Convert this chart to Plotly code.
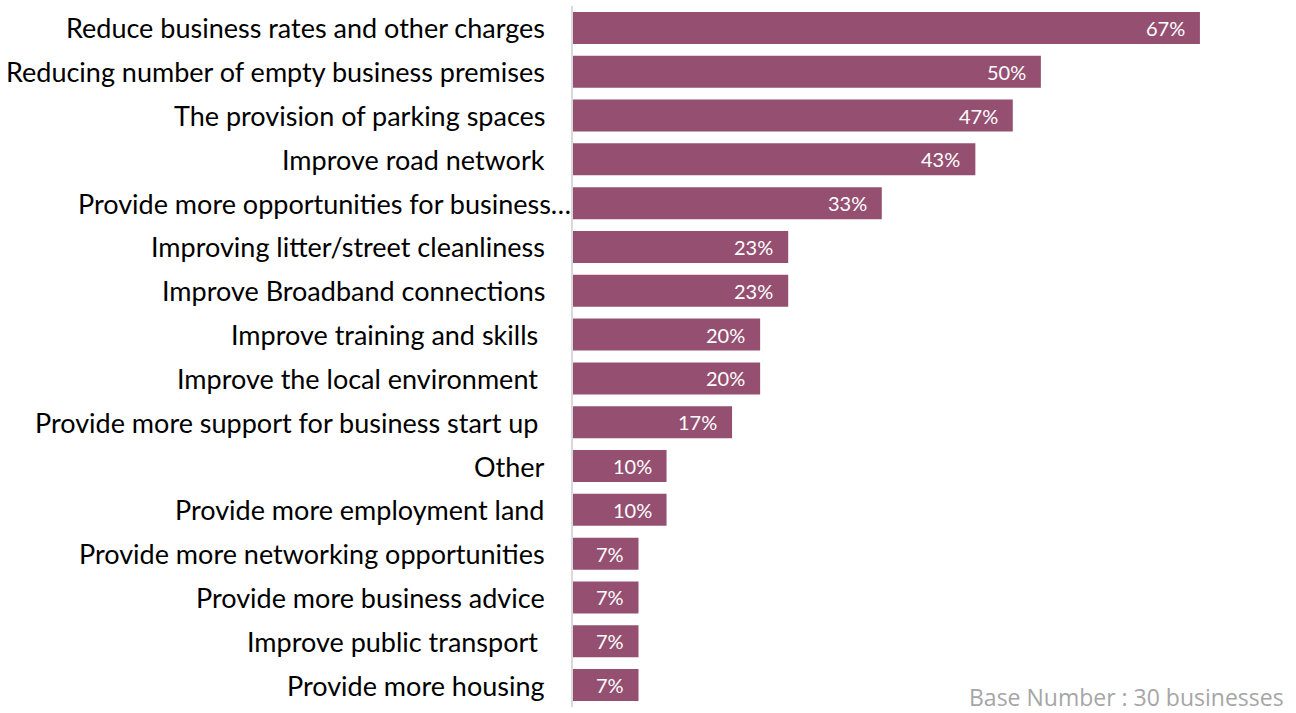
import plotly.graph_objects as go

# Survey results: what would most help local businesses (share of respondents)
categories = [
    "Reduce business rates and other charges",
    "Reducing number of empty business premises",
    "The provision of parking spaces",
    "Improve road network",
    "Provide more opportunities for business…",
    "Improving litter/street cleanliness",
    "Improve Broadband connections",
    "Improve training and skills\u00a0",
    "Improve the local environment\u00a0",
    "Provide more support for business start up\u00a0",
    "Other",
    "Provide more employment land",
    "Provide more networking opportunities",
    "Provide more business advice",
    "Improve public transport\u00a0",
    "Provide more housing",
]
values = [67, 50, 47, 43, 33, 23, 23, 20, 20, 17, 10, 10, 7, 7, 7, 7]
value_labels = [f"{v}%" for v in values]
footnote = "Base Number : 30 businesses"

BAR_COLOR = "#955071"
LABEL_FONT = "Lato"

fig = go.Figure(
    go.Bar(
        x=values,
        y=categories,
        orientation="h",
        marker=dict(color=BAR_COLOR, line=dict(width=0)),
        hoverinfo="skip",
    )
)

# Value labels, inset from the end of each bar
for cat, v, lab in zip(categories, values, value_labels):
    fig.add_annotation(
        x=v, y=cat, xref="x", yref="y",
        text=lab, showarrow=False,
        xanchor="right", yanchor="middle",
        xshift=-13,
        font=dict(family=LABEL_FONT, size=20, color="white"),
    )

# Category labels drawn as annotations so the truncated label can overhang
label_shift = {"Provide more opportunities for business…": 0}
for cat in categories:
    fig.add_annotation(
        x=0, y=cat, xref="x", yref="y",
        text=cat, showarrow=False,
        xanchor="right", yanchor="middle",
        xshift=label_shift.get(cat, -26),
        font=dict(family=LABEL_FONT, size=27, color="black"),
    )

fig.add_annotation(
    x=1.089, y=0.0143, xref="paper", yref="paper",
    text=footnote, showarrow=False,
    xanchor="right", yanchor="middle",
    font=dict(family="Open Sans", size=23, color="#A6A6A6"),
)

fig.update_layout(
    width=1296, height=713,
    margin=dict(l=573, r=68, t=6, b=6),
    paper_bgcolor="white", plot_bgcolor="white",
    bargap=0.27,
    showlegend=False,
    xaxis=dict(range=[0, 70], visible=False, fixedrange=True),
    yaxis=dict(
        autorange="reversed", showticklabels=False, ticks="",
        showgrid=False, zeroline=False,
        showline=True, linecolor="#D9D9D9", linewidth=2,
        fixedrange=True,
    ),
)

fig.write_html("out.html")
